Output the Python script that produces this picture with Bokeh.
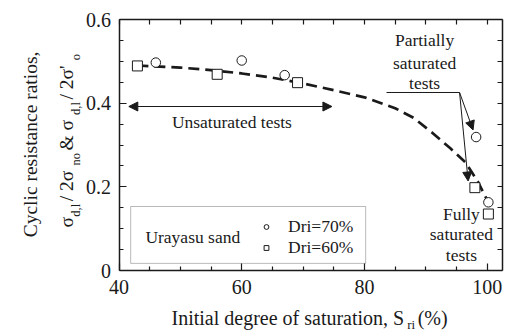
import math
from bokeh.plotting import figure
from bokeh.models import (Range1d, LinearAxis, FixedTicker, Label, Arrow, NormalHead,
                          BoxAnnotation, Legend, LegendItem)
from bokeh.embed import file_html
from bokeh.resources import INLINE

# ---------------- data ----------------
dri70_x = [46.0, 60.0, 67.0, 98.2, 100.2]
dri70_y = [0.497, 0.502, 0.467, 0.319, 0.163]
dri60_x = [43.0, 56.0, 69.1, 98.0, 100.2]
dri60_y = [0.489, 0.469, 0.449, 0.198, 0.135]
trend_x = [43, 50, 55, 60, 65, 70, 75, 80, 85, 88, 91, 94, 96.5, 98.5, 100.0]
trend_y = [0.490, 0.485, 0.479, 0.471, 0.461, 0.447, 0.431, 0.414, 0.388, 0.365, 0.330, 0.292, 0.258, 0.212, 0.168]
x_major = [40, 60, 80, 100]
x_minor = [45, 50, 55, 65, 70, 75, 85, 90, 95]
y_major = [0, 0.2, 0.4, 0.6]
y_minor = [0.05, 0.1, 0.15, 0.25, 0.3, 0.35, 0.45, 0.5, 0.55]
y_tick_labels = {0: "0", 0.2: "0.2", 0.4: "0.4", 0.6: "0.6"}

FONT = "Liberation Serif"
INK = "#1a1a1a"
W_PX, H_PX = 516, 331

# plot-box placement on the canvas (pixels)
BOX_L, BOX_R, BOX_T, BOX_B = 118.5, 502.0, 19.0, 270.0
X0, X1, Y0, Y1 = 40.0, 102.5, 0.0, 0.6
kx = (BOX_R - BOX_L) / (X1 - X0)
ky = (BOX_B - BOX_T) / (Y1 - Y0)

p = figure(width=W_PX, height=H_PX, title=None,
           x_range=Range1d(X0 - BOX_L / kx, X1 + (W_PX - BOX_R) / kx),
           y_range=Range1d(Y0 - (H_PX - BOX_B) / ky, Y1 + BOX_T / ky),
           output_backend="svg", toolbar_location=None,
           x_axis_location=None, y_axis_location=None,
           min_border=0, min_border_left=0, min_border_right=0,
           min_border_top=0, min_border_bottom=0)
p.outline_line_color = None
p.xgrid.visible = False
p.ygrid.visible = False
p.background_fill_color = "white"
p.border_fill_color = "white"


def style_axis(ax, major, minor, show_labels):
    ax.ticker = FixedTicker(ticks=major, minor_ticks=minor)
    ax.axis_line_width = 1.5
    ax.axis_line_color = INK
    ax.major_tick_in = 7
    ax.major_tick_out = 0
    ax.minor_tick_in = 4 if show_labels else 5
    ax.minor_tick_out = 0
    ax.major_tick_line_color = INK
    ax.minor_tick_line_color = INK
    ax.major_tick_line_width = 1.2
    ax.minor_tick_line_width = 1.2
    ax.major_label_text_font = FONT
    ax.major_label_text_color = INK
    ax.major_label_text_font_size = "20px"


xb = LinearAxis(fixed_location=Y0, bounds=(X0, X1))
style_axis(xb, x_major, x_minor, True)
xb.major_label_standoff = 9
p.add_layout(xb, "below")
xt = LinearAxis(fixed_location=Y1, bounds=(X0, X1))
style_axis(xt, [], x_major + x_minor, False)
p.add_layout(xt, "above")
yl = LinearAxis(fixed_location=X0, bounds=(Y0, Y1))
style_axis(yl, y_major, y_minor, True)
yl.major_label_standoff = 8
yl.major_label_overrides = y_tick_labels
p.add_layout(yl, "left")
yr = LinearAxis(fixed_location=X1, bounds=(Y0, Y1))
style_axis(yr, [], y_major + y_minor, False)
p.add_layout(yr, "right")

# trend curve
p.line(trend_x, trend_y, line_color=INK, line_width=2.7, line_dash="11 6")

# data markers
r70 = p.scatter(dri70_x, dri70_y, marker="circle", size=9.5, fill_color="white",
                line_color=INK, line_width=1)
r60 = p.scatter(dri60_x, dri60_y, marker="square", size=10, fill_color="white",
                line_color=INK, line_width=1)

# legend box
p.add_layout(BoxAnnotation(left=41.9, right=80.2, bottom=0.017, top=0.153,
                           fill_color=None, line_color=INK, line_width=1))
p.add_layout(Label(x=44.3, y=0.081, text="Urayasu sand", text_font=FONT,
                   text_font_size="17.5px", text_color=INK, text_baseline="middle"))
legend = Legend(items=[LegendItem(label="Dri=70%", renderers=[r70]),
                       LegendItem(label="Dri=60%", renderers=[r60])],
                location=(260, 73), border_line_color=None, background_fill_alpha=0,
                padding=0, margin=0, spacing=0, glyph_width=12, glyph_height=19,
                label_height=19, label_standoff=16, label_text_font=FONT,
                label_text_font_size="17.5px", label_text_color=INK)
p.add_layout(legend)


def head():
    return NormalHead(size=9, fill_color=INK, line_color=INK)


# Unsaturated tests arrow
p.add_layout(Arrow(start=head(), end=head(), x_start=41.6, y_start=0.392, x_end=74.7, y_end=0.392,
                   line_color=INK, line_width=1))
p.add_layout(Label(x=58.4, y=0.356, text="Unsaturated tests", text_font=FONT,
                   text_font_size="17.5px", text_color=INK, text_align="center",
                   text_baseline="middle"))

# Partially saturated tests
for t, yy in [("Partially", 0.551), ("saturated", 0.497), ("tests", 0.449)]:
    p.add_layout(Label(x=89.8, y=yy, text=t, text_font=FONT, text_font_size="17.5px",
                       text_color=INK, text_align="center", text_baseline="middle"))
p.add_layout(Arrow(end=None, x_start=83.6, y_start=0.4255, x_end=95.5, y_end=0.4255,
                   line_color=INK, line_width=1))
p.add_layout(Arrow(end=head(), x_start=95.5, y_start=0.4255, x_end=97.7, y_end=0.336,
                   line_color=INK, line_width=1))
p.add_layout(Arrow(end=head(), x_start=95.5, y_start=0.4255, x_end=96.9, y_end=0.214,
                   line_color=INK, line_width=1))

# Fully saturated tests
for t, yy in [("Fully", 0.136), ("saturated", 0.088), ("tests", 0.038)]:
    p.add_layout(Label(x=95.8, y=yy, text=t, text_font=FONT, text_font_size="17.5px",
                       text_color=INK, text_align="center", text_baseline="middle"))

# ---- axis titles with subscripts (canvas pixels; y measured from the bottom) ----
W = {"σ": 0.552, "/": 0.278, "2": 0.5, " ": 0.25, "&": 0.778, "'": 0.18, "d": 0.5, ",": 0.25,
     "l": 0.278, "n": 0.5, "o": 0.5, "I": 0.333, "i": 0.278, "t": 0.278, "a": 0.444,
     "e": 0.444, "g": 0.5, "r": 0.333, "f": 0.333, "s": 0.389, "u": 0.5, "S": 0.556,
     "(": 0.333, "%": 0.833, ")": 0.333}


def tw(s, fs):
    return sum(W.get(c, 0.5) for c in s) * fs


SUB_GAP = 2.5

# y title
Y_FS, Y_SUB = 19.5, 12.5
p.add_layout(Label(x=30, y=H_PX - 144, x_units="screen", y_units="screen", angle=math.pi / 2,
                   text="Cyclic resistance ratios,", text_font=FONT,
                   text_font_size=f"{Y_FS}px", text_color=INK, text_align="center",
                   text_baseline="middle"))
pieces = [("σ", 0), ("d,l", 1), (" / 2σ", 0), ("no", 1), (" & σ", 0), ("d,l", 1),
          (" / 2σ'", 0), ("o", 1)]
total = sum(tw(s, Y_SUB if sub else Y_FS) + (SUB_GAP if sub else 0) for s, sub in pieces)
cur = (H_PX - 139) - total / 2
for s, sub in pieces:
    fs = Y_SUB if sub else Y_FS
    p.add_layout(Label(x=66 + (9 if sub else 0), y=cur, x_units="screen", y_units="screen",
                       angle=math.pi / 2, text=s, text_font=FONT, text_font_size=f"{fs}px",
                       text_color=INK, text_align="left", text_baseline="alphabetic"))
    cur += tw(s, fs) + (SUB_GAP if sub else 0)

# x title
X_FS, X_SUB = 20, 13
xpieces = [("Initial degree of saturation, S", 0), ("ri", 1), (" (%)", 0)]
cur = 171
for s, sub in xpieces:
    fs = X_SUB if sub else X_FS
    if sub:
        cur += 3
    p.add_layout(Label(x=cur, y=(H_PX - 317) - (7 if sub else 0), x_units="screen",
                       y_units="screen", text=s, text_font=FONT, text_font_size=f"{fs}px",
                       text_color=INK, text_align="left", text_baseline="alphabetic"))
    cur += tw(s, fs) + (SUB_GAP if sub else 0)

open("out.html", "w").write(file_html(p, INLINE))
